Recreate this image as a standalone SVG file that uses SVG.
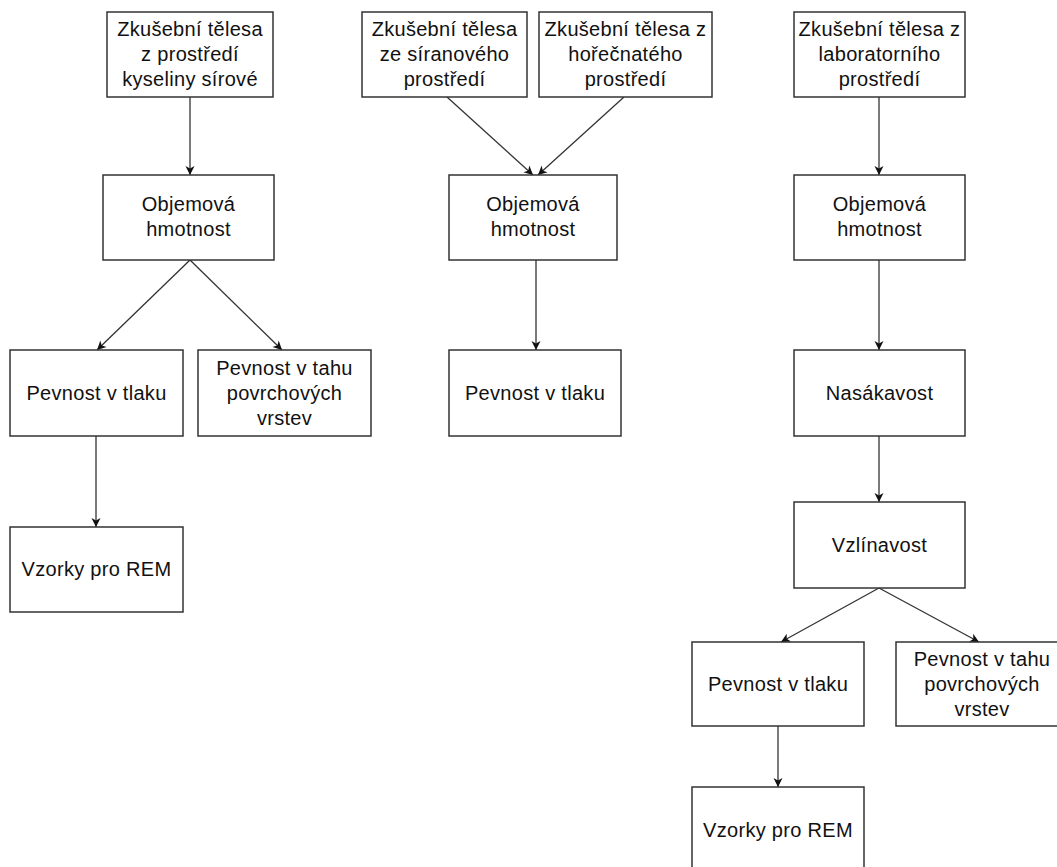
<svg xmlns="http://www.w3.org/2000/svg" width="1057" height="867" viewBox="0 0 1057 867">
<style>
.box{fill:#fff;stroke:#333;stroke-width:1.5}
.t{font-family:"Liberation Sans",Arial,sans-serif;font-size:20px;letter-spacing:0.3px;fill:#111;text-anchor:middle}
.c{stroke:#333;stroke-width:1.3;fill:none;marker-end:url(#ah)}
</style>
<defs>
<marker id="ah" markerUnits="userSpaceOnUse" viewBox="-10 -6 12 12" refX="0" refY="0" markerWidth="12" markerHeight="12" orient="auto">
<path d="M-9,-4.5 L0,0 L-9,4.5 L-6.5,0 Z" fill="#111"/>
</marker>
</defs>
<rect width="1057" height="867" fill="#fff"/>
<g id="connectors">
<line class="c" x1="190" y1="97" x2="190" y2="175"/>
<line class="c" x1="190" y1="260" x2="97" y2="350"/>
<line class="c" x1="190" y1="260" x2="282" y2="350"/>
<line class="c" x1="96" y1="436" x2="96" y2="527"/>
<line class="c" x1="447" y1="97" x2="533" y2="175"/>
<line class="c" x1="624" y1="97" x2="538" y2="175"/>
<line class="c" x1="536" y1="260" x2="536" y2="350"/>
<line class="c" x1="879" y1="97" x2="879" y2="175"/>
<line class="c" x1="879" y1="260" x2="879" y2="350"/>
<line class="c" x1="879" y1="436" x2="879" y2="502"/>
<line class="c" x1="879" y1="588" x2="781" y2="642"/>
<line class="c" x1="879" y1="588" x2="979" y2="642"/>
<line class="c" x1="778" y1="726" x2="778" y2="787"/>
</g>
<g id="n1"><rect class="box" x="107" y="12" width="166" height="85"/>
<text class="t" x="190" y="36">Zkušební tělesa</text><text class="t" x="190" y="61">z prostředí</text><text class="t" x="190" y="86">kyseliny sírové</text></g>
<g id="n2"><rect class="box" x="103" y="175" width="171" height="85"/>
<text class="t" x="188.5" y="211">Objemová</text><text class="t" x="188.5" y="236">hmotnost</text></g>
<g id="n3"><rect class="box" x="10" y="350" width="173" height="86"/>
<text class="t" x="96.5" y="400">Pevnost v tlaku</text></g>
<g id="n4"><rect class="box" x="198" y="350" width="173" height="86"/>
<text class="t" x="284.5" y="375">Pevnost v tahu</text><text class="t" x="284.5" y="400">povrchových</text><text class="t" x="284.5" y="425">vrstev</text></g>
<g id="n5"><rect class="box" x="10" y="527" width="173" height="85"/>
<text class="t" x="96.5" y="576">Vzorky pro REM</text></g>
<g id="n6"><rect class="box" x="362" y="12" width="165" height="85"/>
<text class="t" x="444.5" y="36">Zkušební tělesa</text><text class="t" x="444.5" y="61">ze síranového</text><text class="t" x="444.5" y="86">prostředí</text></g>
<g id="n7"><rect class="box" x="539" y="12" width="173" height="85"/>
<text class="t" x="625.5" y="36">Zkušební tělesa z</text><text class="t" x="625.5" y="61">hořečnatého</text><text class="t" x="625.5" y="86">prostředí</text></g>
<g id="n8"><rect class="box" x="449" y="175" width="168" height="85"/>
<text class="t" x="533" y="211">Objemová</text><text class="t" x="533" y="236">hmotnost</text></g>
<g id="n9"><rect class="box" x="449" y="350" width="172" height="86"/>
<text class="t" x="535" y="400">Pevnost v tlaku</text></g>
<g id="n10"><rect class="box" x="794" y="12" width="171" height="85"/>
<text class="t" x="879.5" y="36">Zkušební tělesa z</text><text class="t" x="879.5" y="61">laboratorního</text><text class="t" x="879.5" y="86">prostředí</text></g>
<g id="n11"><rect class="box" x="794" y="175" width="171" height="85"/>
<text class="t" x="879.5" y="211">Objemová</text><text class="t" x="879.5" y="236">hmotnost</text></g>
<g id="n12"><rect class="box" x="794" y="350" width="171" height="86"/>
<text class="t" x="879.5" y="400">Nasákavost</text></g>
<g id="n13"><rect class="box" x="794" y="502" width="171" height="86"/>
<text class="t" x="879.5" y="552">Vzlínavost</text></g>
<g id="n14"><rect class="box" x="692" y="642" width="172" height="84"/>
<text class="t" x="778" y="691">Pevnost v tlaku</text></g>
<g id="n15"><rect class="box" x="896" y="642" width="172" height="84"/>
<text class="t" x="982" y="666">Pevnost v tahu</text><text class="t" x="982" y="691">povrchových</text><text class="t" x="982" y="716">vrstev</text></g>
<g id="n16"><rect class="box" x="692" y="787" width="172" height="86"/>
<text class="t" x="778" y="837">Vzorky pro REM</text></g>
</svg>
